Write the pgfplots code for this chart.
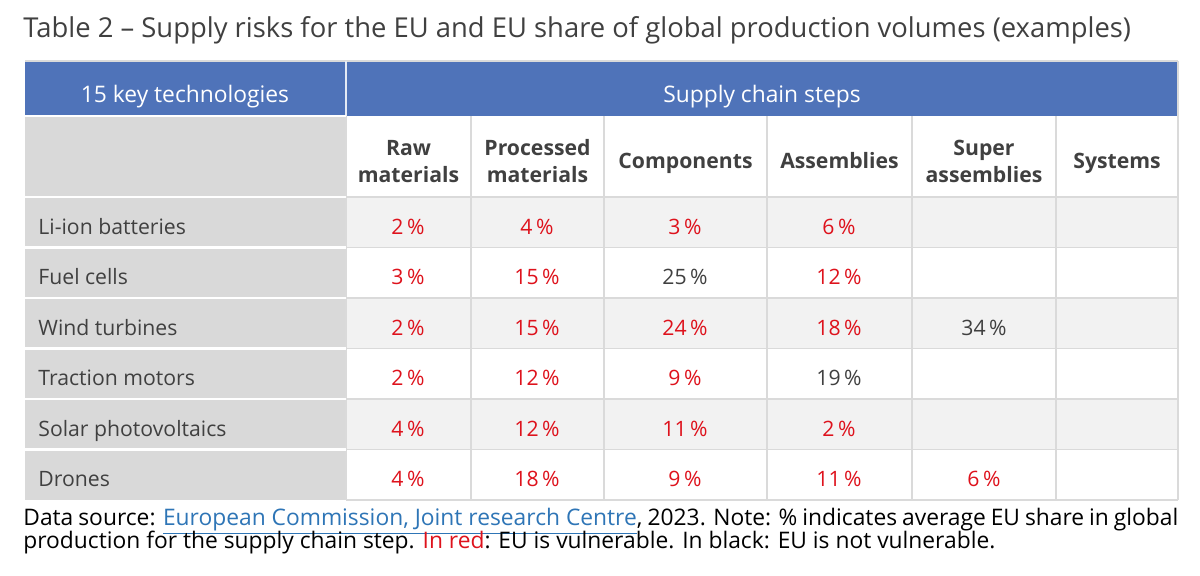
\documentclass[border=0pt]{standalone}
\usepackage{pgfplots}
\pgfplotsset{compat=1.18}
\usepackage{fontspec}
\setmainfont{Open Sans}
\definecolor{hdrblue}{RGB}{79,115,185}
\definecolor{colgray}{RGB}{217,217,217}
\definecolor{rowgray}{RGB}{242,242,242}
\definecolor{gridgray}{RGB}{218,218,218}
\definecolor{txtgray}{RGB}{64,64,64}
\definecolor{riskred}{RGB}{222,18,28}
\definecolor{linkblue}{RGB}{46,117,182}
\newcommand{\bodyfont}{\fontsize{10.6}{13}\selectfont}
\newcommand{\hdrfont}{\fontsize{11.4}{13}\selectfont}
\newcommand{\notefont}{\fontsize{11.4}{13}\selectfont}
\begin{document}
\begin{tikzpicture}
\begin{axis}[
  width=600pt, height=287.5pt, scale only axis,
  xmin=0, xmax=1200, ymin=0, ymax=575, y dir=reverse,
  hide axis, clip=false, unbounded coords=jump,
  every node near coord/.append style={anchor=base, inner sep=0pt, font=\bodyfont},
]
% backgrounds
\addplot[draw=none, fill=hdrblue] coordinates {(25,61) (1178,61) (1178,116) (25,116)} -- cycle;
\addplot[draw=none, fill=colgray] coordinates {(25,116) (346,116) (346,500) (25,500)} -- cycle;
\addplot[draw=none, fill=rowgray] coordinates {(346,197) (1178,197) (1178,247.5) (346,247.5)} -- cycle;
\addplot[draw=none, fill=rowgray] coordinates {(346,298) (1178,298) (1178,348.5) (346,348.5)} -- cycle;
\addplot[draw=none, fill=rowgray] coordinates {(346,399) (1178,399) (1178,449.5) (346,449.5)} -- cycle;
% grid lines
\addplot[gridgray, line width=0.6pt] coordinates {
 (346,197) (1178,197) (nan,nan) (346,247.5) (1178,247.5) (nan,nan)
 (346,298) (1178,298) (nan,nan) (346,348.5) (1178,348.5) (nan,nan)
 (346,399) (1178,399) (nan,nan) (346,449.5) (1178,449.5) (nan,nan)
 (346,500) (1178,500) (nan,nan)
 (471,116) (471,500) (nan,nan) (604,116) (604,500) (nan,nan)
 (767,116) (767,500) (nan,nan) (912,116) (912,500) (nan,nan)
 (1056,116) (1056,500) (nan,nan) (1178,61) (1178,500) (nan,nan)
 (25,61) (1178,61)
};
\addplot[white!85!hdrblue, line width=0.6pt] coordinates {(346,61) (346,116)};
\addplot[gridgray, line width=0.6pt] coordinates {(346,116) (346,500)};
\addplot[white, line width=1.2pt] coordinates {
 (25,116) (346,116) (nan,nan) (25,197) (346,197) (nan,nan) (25,247.5) (346,247.5) (nan,nan)
 (25,298) (346,298) (nan,nan) (25,348.5) (346,348.5) (nan,nan)
 (25,399) (346,399) (nan,nan) (25,449.5) (346,449.5)
};
% values: EU is vulnerable (red)
\addplot[only marks, mark=*, mark size=0pt, opacity=0, text opacity=1,
  scatter/use mapped color={draw opacity=0, fill opacity=0},
  point meta=explicit symbolic, nodes near coords={\pgfplotspointmeta\,\%},
  every node near coord/.append style={text=riskred, opacity=1}] table[meta=v] {
x y v
408 234 2
537 234 4
685 234 3
839 234 6
408 284.5 3
537 284.5 15
839 284.5 12
408 335 2
537 335 15
685 335 24
839 335 18
408 385.5 2
537 385.5 12
685 385.5 9
408 436 4
537 436 12
685 436 11
839 436 2
408 486.5 4
537 486.5 18
685 486.5 9
839 486.5 11
984 486.5 6
};
% values: EU is not vulnerable (black)
\addplot[only marks, mark=*, mark size=0pt, opacity=0, text opacity=1,
  scatter/use mapped color={draw opacity=0, fill opacity=0},
  point meta=explicit symbolic, nodes near coords={\pgfplotspointmeta\,\%},
  every node near coord/.append style={text=txtgray, opacity=1}] table[meta=v] {
x y v
685 284.5 25
984 335 34
839 385.5 19
};
% texts
\node[anchor=base west, inner sep=0pt, text=txtgray, font=\fontsize{13.7}{15}\selectfont] at (axis cs:23,37)
  {Table 2 – Supply risks for the EU and EU share of global production volumes (examples)};
\node[anchor=base, inner sep=0pt, text=white, font=\hdrfont] at (axis cs:185,102) {15 key technologies};
\node[anchor=base, inner sep=0pt, text=white, font=\hdrfont] at (axis cs:762,102) {Supply chain steps};
\begin{scope}[every node/.style={anchor=base, inner sep=0pt, text=txtgray, font=\bodyfont\bfseries}]
\node at (axis cs:408.5,155) {Raw};
\node at (axis cs:408.5,182) {materials};
\node at (axis cs:537.5,155) {Processed};
\node at (axis cs:537.5,182) {materials};
\node at (axis cs:685.5,168) {Components};
\node at (axis cs:839.5,168) {Assemblies};
\node at (axis cs:984,155) {Super};
\node at (axis cs:984,182) {assemblies};
\node at (axis cs:1117,168) {Systems};
\end{scope}
\begin{scope}[every node/.style={anchor=base west, inner sep=0pt, text=txtgray, font=\bodyfont}]
\node at (axis cs:38,234) {Li-ion batteries};
\node at (axis cs:38,284.5) {Fuel cells};
\node at (axis cs:38,335) {Wind turbines};
\node at (axis cs:38,385.5) {Traction motors};
\node at (axis cs:38,436) {Solar photovoltaics};
\node at (axis cs:38,486.5) {Drones};
\end{scope}
\node[anchor=base west, inner sep=0pt, text=black, font=\notefont] at (axis cs:23,525)
  {\makebox[577.5pt][s]{Data source: \textcolor{linkblue}{\underline{European Commission, Joint research Centre}}, 2023. Note: \% indicates average EU share in global}};
\node[anchor=base west, inner sep=0pt, text=black, font=\notefont] at (axis cs:23,548)
  {production for the supply chain step. \textcolor{riskred}{In red}: EU is vulnerable. In black: EU is not vulnerable.};
\end{axis}
\pgfresetboundingbox
\path (current axis.south west) rectangle (current axis.north east);
\end{tikzpicture}
\end{document}
